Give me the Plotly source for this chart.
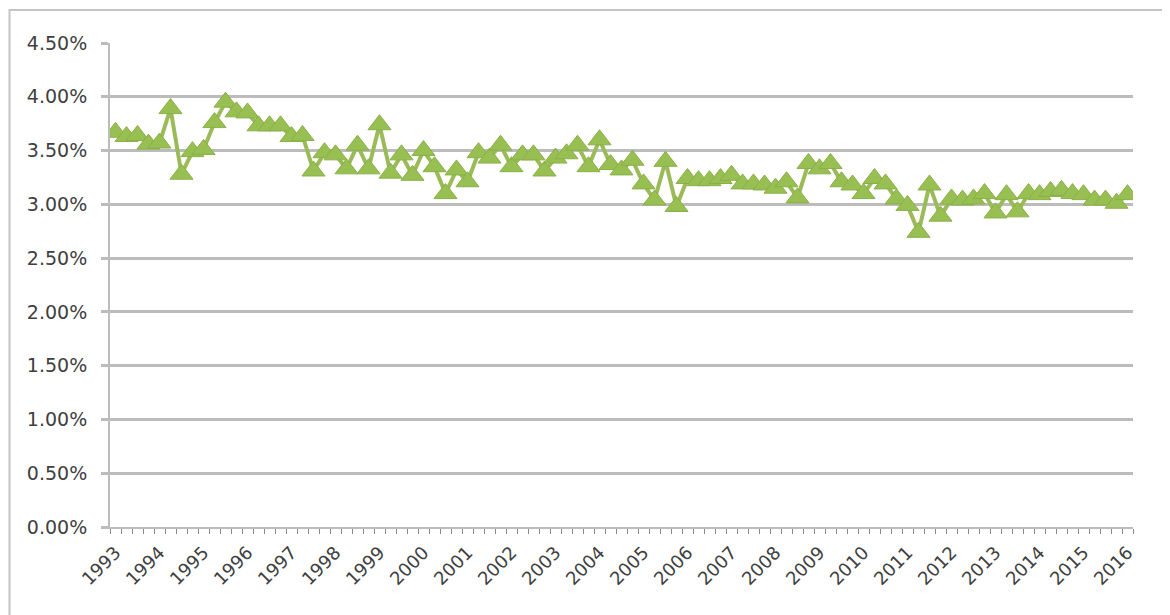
import plotly.graph_objects as go

YEARS = [1993, 1994, 1995, 1996, 1997, 1998, 1999, 2000, 2001, 2002, 2003, 2004,
         2005, 2006, 2007, 2008, 2009, 2010, 2011, 2012, 2013, 2014, 2015, 2016]
QUARTERS = ["Q1", "Q2", "Q3", "Q4"]

# quarterly categories 1993 Q1 .. 2016 Q1
CATEGORIES = [f"{y} {q}" for y in YEARS[:-1] for q in QUARTERS] + [f"{YEARS[-1]} Q1"]

# rate in percent
VALUES = [
    3.67, 3.63, 3.64, 3.56,   # 1993
    3.57, 3.89, 3.28, 3.49,   # 1994
    3.51, 3.76, 3.95, 3.86,   # 1995
    3.85, 3.73, 3.73, 3.73,   # 1996
    3.63, 3.64, 3.31, 3.48,   # 1997
    3.46, 3.33, 3.55, 3.33,   # 1998
    3.74, 3.29, 3.46, 3.27,   # 1999
    3.50, 3.35, 3.10, 3.32,   # 2000
    3.21, 3.48, 3.43, 3.55,   # 2001
    3.35, 3.46, 3.46, 3.31,   # 2002
    3.43, 3.47, 3.55, 3.35,   # 2003
    3.60, 3.37, 3.32, 3.41,   # 2004
    3.19, 3.04, 3.40, 2.98,   # 2005
    3.24, 3.22, 3.22, 3.24,   # 2006
    3.27, 3.19, 3.19, 3.18,   # 2007
    3.15, 3.21, 3.06, 3.38,   # 2008
    3.33, 3.38, 3.21, 3.18,   # 2009
    3.10, 3.24, 3.19, 3.05,   # 2010
    2.99, 2.74, 3.18, 2.89,   # 2011
    3.05, 3.04, 3.05, 3.10,   # 2012
    2.92, 3.09, 2.93, 3.10,   # 2013
    3.09, 3.12, 3.13, 3.10,   # 2014
    3.09, 3.04, 3.04, 3.01,   # 2015
    3.09,                     # 2016
]

TICK_TEXT = [c.split(" ")[0] if c.endswith("Q1") else "" for c in CATEGORIES]

GRID = "#bcbcbc"
TXT = "#404040"
FONT = "DejaVu Sans"

# page body has an 8px default margin; the figure is sized to fill the window
OFF = 8
FIG_W, FIG_H = 1170 - OFF, 615 - OFF

fig = go.Figure()
fig.add_trace(go.Scatter(
    x=CATEGORIES, y=VALUES, mode="lines+markers",
    line=dict(color="#9BBB59", width=4),
    marker=dict(symbol="triangle-up", size=20, color="#97BF52",
                line=dict(color="#8AB048", width=1)),
    showlegend=False, hoverinfo="x+y",
))

fig.update_layout(
    width=FIG_W, height=FIG_H,
    margin=dict(l=110 - OFF, r=37, t=43 - OFF, b=88),
    paper_bgcolor="white", plot_bgcolor="white",
    font=dict(family=FONT, size=18, color=TXT),
    xaxis=dict(
        type="category", categoryorder="array", categoryarray=CATEGORIES,
        range=[-0.5, len(CATEGORIES) - 0.5],
        tickmode="array", tickvals=CATEGORIES, ticktext=TICK_TEXT,
        tickson="boundaries", ticks="outside", ticklen=5, tickwidth=1,
        tickcolor="#8a8a8a", tickangle=-45, ticklabelstandoff=6,
        showgrid=False, showline=True, linecolor=GRID, linewidth=2,
        tickfont=dict(family=FONT, size=18, color=TXT),
        zeroline=False, fixedrange=True,
    ),
    yaxis=dict(
        range=[0, 4.5], dtick=0.5, tick0=0,
        tickformat=".2f", ticksuffix="%",
        showgrid=True, gridcolor=GRID, gridwidth=2.5,
        showline=True, linecolor=GRID, linewidth=2,
        ticks="outside", ticklen=7, tickcolor=GRID, tickwidth=2.5,
        ticklabelstandoff=10,
        tickfont=dict(family=FONT, size=19, color=TXT),
        zeroline=False, fixedrange=True,
    ),
    shapes=[dict(
        type="rect", xref="paper", yref="paper",
        x0=(9.5 - 110) / 1023, x1=(1167 - 110) / 1023,
        y0=(527 - 640) / 484, y1=(527 - 10) / 484,
        line=dict(color="#c4c4c4", width=2), layer="below",
    )],
)

fig.write_html("out.html")
